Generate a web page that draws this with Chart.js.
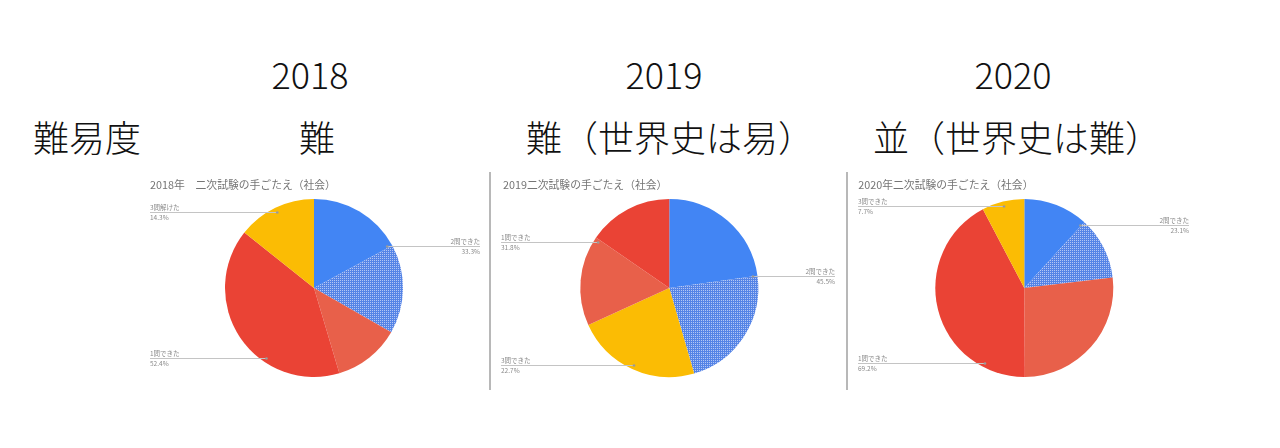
<!DOCTYPE html>
<html lang="ja">
<head>
<meta charset="utf-8">
<script src="https://cdn.jsdelivr.net/npm/chart.js@4"></script>
<style>
    body { margin: 0; background: #fff; width: 1280px; height: 448px; overflow: hidden; font-family: "Noto Sans CJK JP", sans-serif; }
    .head { position: absolute; font-size: 36px; line-height: 36px; font-weight: 300; color: #111; white-space: nowrap; transform: translateX(-50%); }
    .panel { position: absolute; top: 172px; height: 218px; }
    .panel.ruled { border-left: 2px solid #b8b8b8; }
    .panel canvas { display: block; }
</style>
</head>
<body>
<div class="head" style="left:310px; top:55px;">2018</div>
<div class="head" style="left:664px; top:55px;">2019</div>
<div class="head" style="left:1013px; top:55px;">2020</div>
<div class="head" style="left:87px; top:118px;">難易度</div>
<div class="head" style="left:317px; top:118px;">難</div>
<div class="head" style="left:670px; top:118px;">難（世界史は易）</div>
<div class="head" style="left:1017px; top:118px;">並（世界史は難）</div>

<div class="panel" style="left:140px;"><canvas id="c2018" width="345" height="218"></canvas></div>
<div class="panel ruled" style="left:489px;"><canvas id="c2019" width="349" height="218"></canvas></div>
<div class="panel ruled" style="left:846px;"><canvas id="c2020" width="346" height="218"></canvas></div>

<script>
// chart titles
const title2018 = "2018年　二次試験の手ごたえ（社会）";
const title2019 = "2019二次試験の手ごたえ（社会）";
const title2020 = "2020年二次試験の手ごたえ（社会）";

// answer groups, clockwise from 12 o'clock
const groups2018 = ["2問できた", "1問できた", "3問解けた"];
const shares2018 = [33.3, 52.4, 14.3];
// each group split into the highlighted sub-parts seen in the picture
const parts2018 = [[17.1, 16.2], [12.1, 40.3], [14.3]];

const groups2019 = ["2問できた", "3問できた", "1問できた"];
const shares2019 = [45.5, 22.7, 31.8];
const parts2019 = [[22.8, 22.7], [22.7], [16.4, 15.4]];

const groups2020 = ["2問できた", "1問できた", "3問できた"];
const shares2020 = [23.1, 69.2, 7.7];
const parts2020 = [[11.8, 11.3], [26.8, 42.4], [7.7]];

const R = 89;

function dotPattern() {
    const tile = document.createElement("canvas");
    tile.width = 2;
    tile.height = 2;
    const tctx = tile.getContext("2d");
    tctx.fillStyle = "#5584e6";
    tctx.fillRect(0, 0, 2, 2);
    tctx.fillStyle = "#b3c6f5";
    tctx.fillRect(0, 0, 1, 1);
    return tctx.createPattern(tile, "repeat");
}

const dots = dotPattern();
// fills of the sub-parts, keyed by the number of answered questions
const partFills = {
    "2": ["#4285f4", dots],
    "1": ["#e8604a", "#ea4335"],
    "3": ["#fbbc04"]
};

const calloutPlugin = {
    id: "callouts",
    afterDraw(chart, args, opts) {
        const ctx = chart.ctx;
        const W = chart.width;
        const arcs = chart.getDatasetMeta(0).data;

        ctx.save();
        ctx.font = "10.8px 'Noto Sans CJK JP', sans-serif";
        ctx.fillStyle = "#757575";
        ctx.textAlign = "left";
        ctx.textBaseline = "middle";
        ctx.fillText(opts.title, opts.titleX, 13);

        let i = 0;
        opts.groups.forEach((name, g) => {
            const n = opts.parts[g].length;
            const first = arcs[i];
            const last = arcs[i + n - 1];
            i += n;
            const mid = (first.startAngle + last.endAngle) / 2;
            const r = first.outerRadius * 0.95;
            const px = first.x + Math.cos(mid) * r;
            const py = Math.round(first.y + Math.sin(mid) * r) + 0.5;
            const right = Math.cos(mid) > 0;
            const tx = right ? W - 5 : 10;

            ctx.strokeStyle = "#c4c4c4";
            ctx.lineWidth = 1;
            ctx.beginPath();
            ctx.moveTo(tx, py);
            ctx.lineTo(px, py);
            ctx.stroke();
            ctx.fillStyle = "#9a9a9a";
            ctx.beginPath();
            ctx.arc(px, py, 1.3, 0, Math.PI * 2);
            ctx.fill();

            ctx.font = "6.5px 'Noto Sans CJK JP', sans-serif";
            ctx.fillStyle = "#8a8a8a";
            ctx.textAlign = right ? "right" : "left";
            ctx.textBaseline = "alphabetic";
            ctx.fillText(name, tx, py - 3);
            ctx.textBaseline = "top";
            ctx.fillText(opts.shares[g].toFixed(1) + "%", tx, py + 1.5);
        });
        ctx.restore();
    }
};

function drawPie(id, title, titleX, groups, shares, parts, cx, cy) {
    const canvas = document.getElementById(id);
    const W = canvas.width;
    const H = canvas.height;
    const labels = [];
    const values = [];
    const fills = [];
    parts.forEach((list, g) => {
        list.forEach((v, k) => {
            labels.push(groups[g]);
            values.push(v);
            fills.push(partFills[groups[g][0]][k]);
        });
    });

    return new Chart(canvas, {
        type: "pie",
        data: {
            labels: labels,
            datasets: [{
                data: values,
                backgroundColor: fills,
                borderWidth: 0
            }]
        },
        options: {
            responsive: false,
            animation: false,
            radius: R,
            layout: {
                padding: { left: cx - R, right: W - cx - R, top: cy - R, bottom: H - cy - R }
            },
            plugins: {
                legend: { display: false },
                tooltip: { enabled: false },
                callouts: { title: title, titleX: titleX, groups: groups, shares: shares, parts: parts }
            }
        },
        plugins: [calloutPlugin]
    });
}

drawPie("c2018", title2018, 10, groups2018, shares2018, parts2018, 174, 116);
drawPie("c2019", title2019, 12, groups2019, shares2019, parts2019, 178.3, 116);
drawPie("c2020", title2020, 10.3, groups2020, shares2020, parts2020, 176.3, 116);
</script>
</body>
</html>
